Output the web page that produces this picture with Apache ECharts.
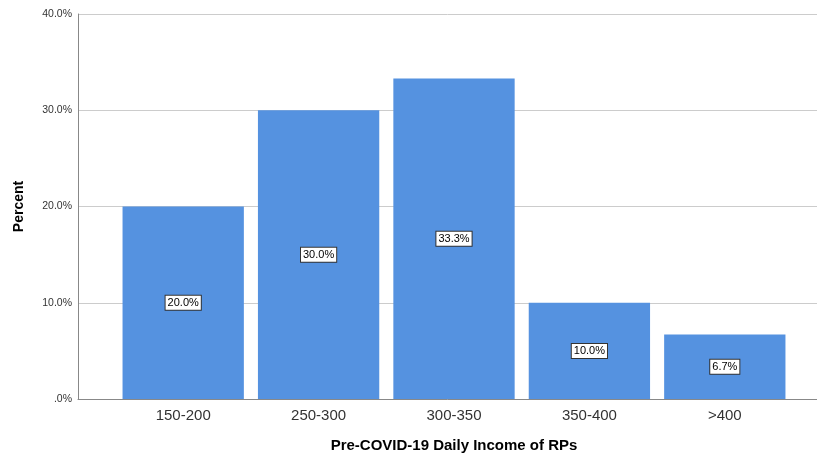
<!DOCTYPE html>
<html>
<head>
<meta charset="utf-8">
<script src="https://cdn.jsdelivr.net/npm/echarts@6/dist/echarts.min.js"></script>
<style>
  html, body { margin: 0; padding: 0; background: #ffffff; }
  #chart { width: 817px; height: 458px; }
</style>
</head>
<body>
<div id="chart"></div>
<script>
// Income bands and share of respondents (percent)
const categories = ['150-200', '250-300', '300-350', '350-400', '>400'];
const percents = [20.0, 30.0, 33.3, 10.0, 6.7];
const yTicks = [0, 10, 20, 30, 40];

const fontFamily = '"Liberation Sans", Arial, sans-serif';
const barColor = '#5592e0';

const chart = echarts.init(document.getElementById('chart'), null, { renderer: 'canvas' });

chart.setOption({
  backgroundColor: '#ffffff',
  animation: false,
  grid: [
    // frame: y axis, gridlines and baseline across the full width
    { left: 78, right: 0, top: 14, bottom: 59, containLabel: false, outerBoundsMode: 'none' },
    // bars: inset category band
    { left: 115.5, right: 24.5, top: 14, bottom: 59, containLabel: false, outerBoundsMode: 'none' }
  ],
  xAxis: [
    {
      gridIndex: 0, type: 'value', min: 0, max: 1,
      axisLine: { show: true, lineStyle: { color: '#888888', width: 1 } },
      axisTick: { show: false }, axisLabel: { show: false }, splitLine: { show: false }
    },
    {
      gridIndex: 1, type: 'category', data: categories,
      axisLine: { show: false }, axisTick: { show: false },
      axisLabel: { color: '#333333', fontSize: 15, fontFamily: fontFamily, margin: 9 },
      name: 'Pre-COVID-19 Daily Income of RPs',
      nameLocation: 'middle', nameGap: 39,
      nameTextStyle: { color: '#000000', fontSize: 15, fontWeight: 'bold', fontFamily: fontFamily }
    }
  ],
  yAxis: [
    {
      gridIndex: 0, type: 'value', min: yTicks[0], max: yTicks[yTicks.length - 1], interval: 10,
      axisLine: { show: true, lineStyle: { color: '#888888', width: 1 } },
      axisTick: { show: false },
      axisLabel: {
        color: '#333333', fontSize: 10.5, fontFamily: fontFamily, margin: 6,
        formatter: v => (v === 0 ? '.0%' : v.toFixed(1) + '%')
      },
      splitLine: { show: true, lineStyle: { color: '#cccccc', width: 1 } },
      name: 'Percent', nameLocation: 'middle', nameGap: 52, nameRotate: 90,
      nameTextStyle: { color: '#000000', fontSize: 14, fontWeight: 'bold', fontFamily: fontFamily }
    },
    {
      gridIndex: 1, type: 'value', min: yTicks[0], max: yTicks[yTicks.length - 1],
      show: false, splitLine: { show: false }
    }
  ],
  series: [
    {
      type: 'bar',
      xAxisIndex: 1, yAxisIndex: 1,
      data: percents,
      barWidth: '89.6%',
      itemStyle: { color: barColor },
      label: {
        show: true,
        position: 'inside',
        formatter: p => p.value.toFixed(1) + '%',
        color: '#000000',
        fontSize: 11,
        fontFamily: fontFamily,
        backgroundColor: '#ffffff',
        borderColor: '#333333',
        borderWidth: 1,
        padding: [2, 2, 1, 2]
      }
    }
  ]
});
</script>
</body>
</html>
